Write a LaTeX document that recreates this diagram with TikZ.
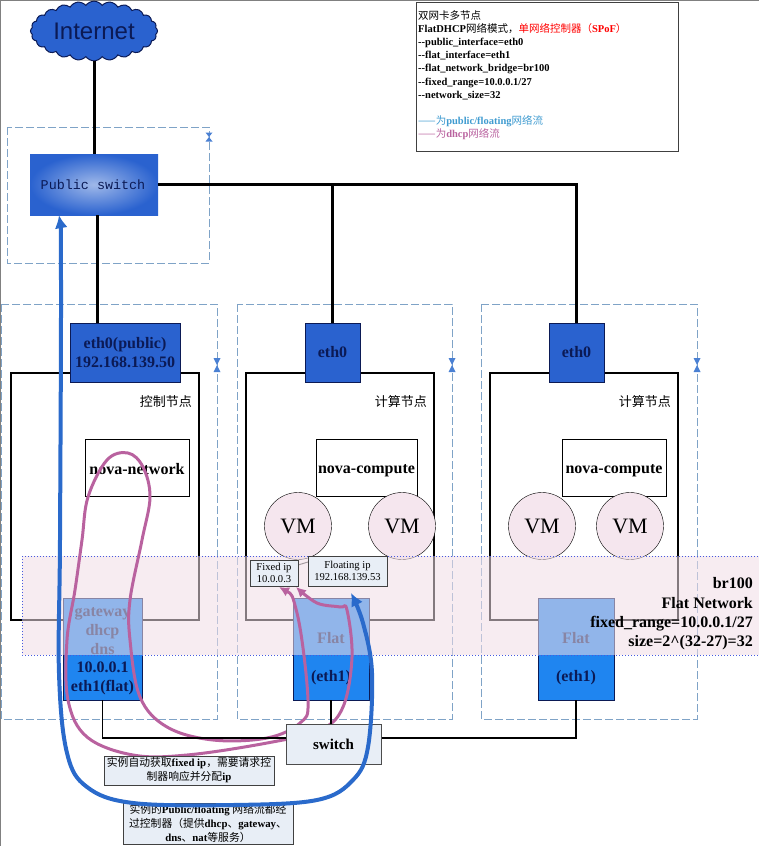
\documentclass[tikz,border=0pt]{standalone}
\usepackage{fontspec}
\setmainfont{Liberation Serif}
\setsansfont{Liberation Sans}
\setmonofont{Liberation Mono}
\newfontfamily\cjk{Noto Sans CJK SC}
\usetikzlibrary{positioning, arrows.meta, shapes.symbols}
\definecolor{netblue}{HTML}{2A62CF}
\definecolor{portblue}{HTML}{1F85F0}
\definecolor{inkblue}{HTML}{0B1A55}
\definecolor{framedash}{HTML}{7FA3C7}
\definecolor{palebox}{HTML}{E8EEF6}
\definecolor{vmpink}{HTML}{F5E6EE}
\definecolor{bandpink}{HTML}{F0DDE6}
\definecolor{dhcppink}{HTML}{B9629F}
\definecolor{flowblue}{HTML}{2A6ACB}
\definecolor{legendblue}{HTML}{3F9BD0}
\newcommand{\zh}[1]{{\cjk\mdseries #1}}
\tikzset{
	uplink/.style={line width=3pt},
	lanlink/.style={line width=1.5pt},
	groupframe/.style={draw=framedash, line width=1pt, dash pattern=on 8pt off 3pt},
	nodeframe/.style={draw, line width=1.5pt, minimum height=247pt, minimum width=188pt, inner sep=0pt},
	ethbox/.style={draw=inkblue, fill=netblue, text=inkblue, minimum height=59pt, inner sep=0pt, align=center, font=\fontsize{16}{19}\selectfont\bfseries},
	flatbox/.style={draw=inkblue, fill=portblue, text=inkblue, minimum height=102pt, inner sep=0pt},
	flatlabel/.style={text=inkblue, align=center, font=\fontsize{16}{19}\selectfont\bfseries},
	servicebox/.style={draw, fill=white, minimum height=57pt, inner sep=0pt, text height=14.5pt, font=\fontsize{16}{19}\selectfont\bfseries},
	vmcircle/.style={circle, draw, fill=vmpink, minimum size=67pt, inner sep=0pt, font=\fontsize{22}{26}\selectfont},
	rolelabel/.style={anchor=east, inner sep=0pt, font=\fontsize{13}{15}\selectfont},
	notebox/.style={draw=black!75, line width=1pt, fill=palebox, inner sep=0pt, align=center, font=\fontsize{10.8}{14}\selectfont},
	pinkflow/.style={draw=dhcppink, line width=3pt, {Latex[length=10pt,width=10pt]}-{Latex[length=10pt,width=10pt]}},
	blueflow/.style={draw=flowblue, line width=4pt, {Latex[length=13pt,width=13pt]}-{Latex[length=13pt,width=13pt]}}
}
\begin{document}
\begin{tikzpicture}[x=1pt, y=-1pt]
	\useasboundingbox (0,0) rectangle (759,846);
	\draw[black!50, line width=1pt] (0,0) rectangle (759,846);

	% dashed groups
	\draw[groupframe] (7,127) rectangle (209,263);
	\draw[groupframe] (1,304) rectangle (217,719);
	\draw[groupframe] (237,304) rectangle (452,719);
	\draw[groupframe] (481,304) rectangle (697,719);
	\foreach \x/\y/\s in {209/137/4.5, 217/365/7, 452/365/7, 697/365/7} {
		\fill[flowblue!85] (\x-3.5,\y-\s) -- (\x+3.5,\y-\s) -- (\x,\y) -- cycle;
		\fill[flowblue!85] (\x-3.5,\y+\s) -- (\x+3.5,\y+\s) -- (\x,\y) -- cycle;
	}

	% top of the network
	\node[cloud, cloud puffs=24, cloud puff arc=110, aspect=2.2, draw=inkblue, fill=netblue, line width=1pt, minimum width=127pt, minimum height=57pt, inner sep=0pt, text=inkblue, font=\sffamily\fontsize{24}{28}\selectfont] (internet) at (94,31) {Internet};
	\node[inner color=netblue!45, outer color=netblue, minimum width=128pt, minimum height=61pt, inner sep=0pt, text=inkblue, font=\ttfamily\fontsize{13.4}{16}\selectfont] (pubswitch) at (94,184.5) {\hspace{-2pt}Public switch};

	% node boxes
	\node[nodeframe] (ctlbox) at (105,496.5) {};
	\node[nodeframe] (midbox) at (340,496.5) {};
	\node[nodeframe] (rightbox) at (584,496.5) {};
	\node[rolelabel] (ctlrole) at (192,402) {\zh{控制节点}};
	\node[rolelabel] (midrole) at (427,402) {\zh{计算节点}};
	\node[rolelabel] (rightrole) at (671,402) {\zh{计算节点}};

	\node[ethbox, minimum width=110pt] (ethpublic) at (125,352.5) {eth0(public)\\192.168.139.50};
	\node[ethbox, minimum width=55pt] (ethmid) at (332.5,352.5) {eth0};
	\node[ethbox, minimum width=55pt] (ethright) at (576.5,352.5) {eth0};

	\node[servicebox, minimum width=104pt] (novanet) at (137,467.5) {nova-network};
	\node[servicebox, minimum width=101pt] (novamid) at (366.5,467.5) {nova-compute};
	\node[servicebox, minimum width=104pt] (novaright) at (614,467.5) {nova-compute};

	\node[vmcircle] (vma) at (298,526) {VM};
	\node[vmcircle] (vmb) at (402,526) {VM};
	\node[vmcircle] (vmc) at (542,526) {VM};
	\node[vmcircle] (vmd) at (630,526) {VM};

	% flat ports, the band lies over their upper part
	\node[flatbox, minimum width=79pt] (flatctl) at (102.5,649) {};
	\node[flatbox, minimum width=76pt] (flatmid) at (331,649) {};
	\node[flatbox, minimum width=76pt] (flatright) at (576,649) {};
	\node[flatlabel] (gwlabel) at (102.5,631) {gateway\\dhcp\\dns};
	\node[flatlabel] (ctlport) at (102.5,678) {10.0.0.1\\eth1(flat)};
	\node[flatlabel] (midflat) at (331,638) {Flat};
	\node[flatlabel] (midport) at (331,678) {(eth1)};
	\node[flatlabel] (rightflat) at (576,638) {Flat};
	\node[flatlabel] (rightport) at (576,678) {(eth1)};

	\draw[black!70, line width=1pt] (298,565) -- (308,562);
	\fill[bandpink, opacity=.55] (22,556) rectangle (759,655);
	\draw[blue!45!framedash, line width=1pt, dotted] (22,556) rectangle (759,655);
	\node[anchor=east, align=right, inner sep=0pt, font=\fontsize{16}{19.3}\selectfont\bfseries] (bandlabel) at (753,614) {br100\\Flat Network\\fixed\_range=10.0.0.1/27\\size=2\textasciicircum(32-27)=32};

	% links
	\draw[uplink] (internet.south) -- (pubswitch.north);
	\draw[uplink] ([xshift=3pt]pubswitch.south) -- ([xshift=-28pt]ethpublic.north);
	\draw[uplink] (pubswitch.east) -- (pubswitch.east -| ethright.north) -- (ethright.north);
	\draw[uplink] (pubswitch.east -| ethmid.north) -- (ethmid.north);

	% dhcp flow runs behind the switch
	\coordinate (pinkfixed) at (279,587);
	\coordinate (pinkfloat) at (296,587);
	\draw[pinkflow] plot[smooth, tension=.6] coordinates {(pinkfixed) (297,613) (308,700) (300,723) (267,738) (213,740) (167,727) (140,697) (130,640) (130,600) (142,540) (150,497) (143,467) (128,453) (107,460) (88,497) (82,540) (75,590) (67,640) (68,700) (87,737) (133,755) (187,755) (267,743) (320,730) (343,707) (352,657) (347,610) (340,607) (317,603) (pinkfloat)};

	\node[draw=black!70, line width=1pt, fill=palebox, minimum width=95pt, minimum height=40pt, inner sep=0pt, font=\fontsize{15}{19}\selectfont\bfseries] (lanswitch) at (333.5,744) {switch};
	\draw[lanlink] (flatctl.south) |- ([yshift=6pt]lanswitch.west);
	\draw[lanlink] (flatmid.south) -- (flatmid.south |- lanswitch.north);
	\draw[lanlink] ([yshift=6pt]lanswitch.east) -| (flatright.south);

	\node[notebox, minimum width=48pt, minimum height=26pt, font=\fontsize{10.6}{12.5}\selectfont] (fixedip) at (274,573) {Fixed ip\\10.0.0.3};
	\node[notebox, minimum width=79pt, minimum height=30pt, font=\fontsize{10.6}{12.5}\selectfont] (floatip) at (347.5,571) {Floating ip\\192.168.139.53};
	\node[notebox, minimum width=170pt, minimum height=29pt] (fixednote) at (189,770.5) {\zh{实例自动获取}\textbf{fixed ip}\zh{，需要请求控}\\\zh{制器响应并分配}\textbf{ip}};
	\node[notebox, minimum width=170pt, minimum height=41pt] (floatnote) at (208,823.5) {\zh{实例的}\textbf{Public/floating} \zh{网络流都经}\\\zh{过控制器（提供}\textbf{dhcp}\zh{、}\textbf{gateway}\zh{、}\\\textbf{dns}\zh{、}\textbf{nat}\zh{等服务）}};

	% public flow on top of everything
	\coordinate (bluefloat) at (351,593);
	\draw[blueflow] plot[smooth, tension=.6] coordinates {([xshift=-35pt]pubswitch.south) (61,280) (60,540) (59,673) (67,753) (87,787) (133,803) (233,805) (317,800) (353,780) (368,747) (372,673) (363,623) (bluefloat)};

	% legend
	\node[draw=black!75, line width=1pt, minimum width=262pt, minimum height=149pt, inner sep=0pt] (legendbox) at (547,76.5) {};
	\node[anchor=north west, inner sep=0pt, align=left, font=\fontsize{10.5}{13.2}\selectfont\bfseries] (legendtext) at (418,10) {\zh{双网卡多节点}\\FlatDHCP\zh{网络模式，}\textcolor{red}{\zh{单网络控制器（}SPoF\zh{）}}\\{-}{-}public\_interface=eth0\\{-}{-}flat\_interface=eth1\\{-}{-}flat\_network\_bridge=br100\\{-}{-}fixed\_range=10.0.0.1/27\\{-}{-}network\_size=32\\[13.2pt]\textcolor{legendblue}{\zh{——为}public/floating\zh{网络流}}\\\textcolor{dhcppink}{\zh{——为}dhcp\zh{网络流}}};
\end{tikzpicture}
\end{document}
